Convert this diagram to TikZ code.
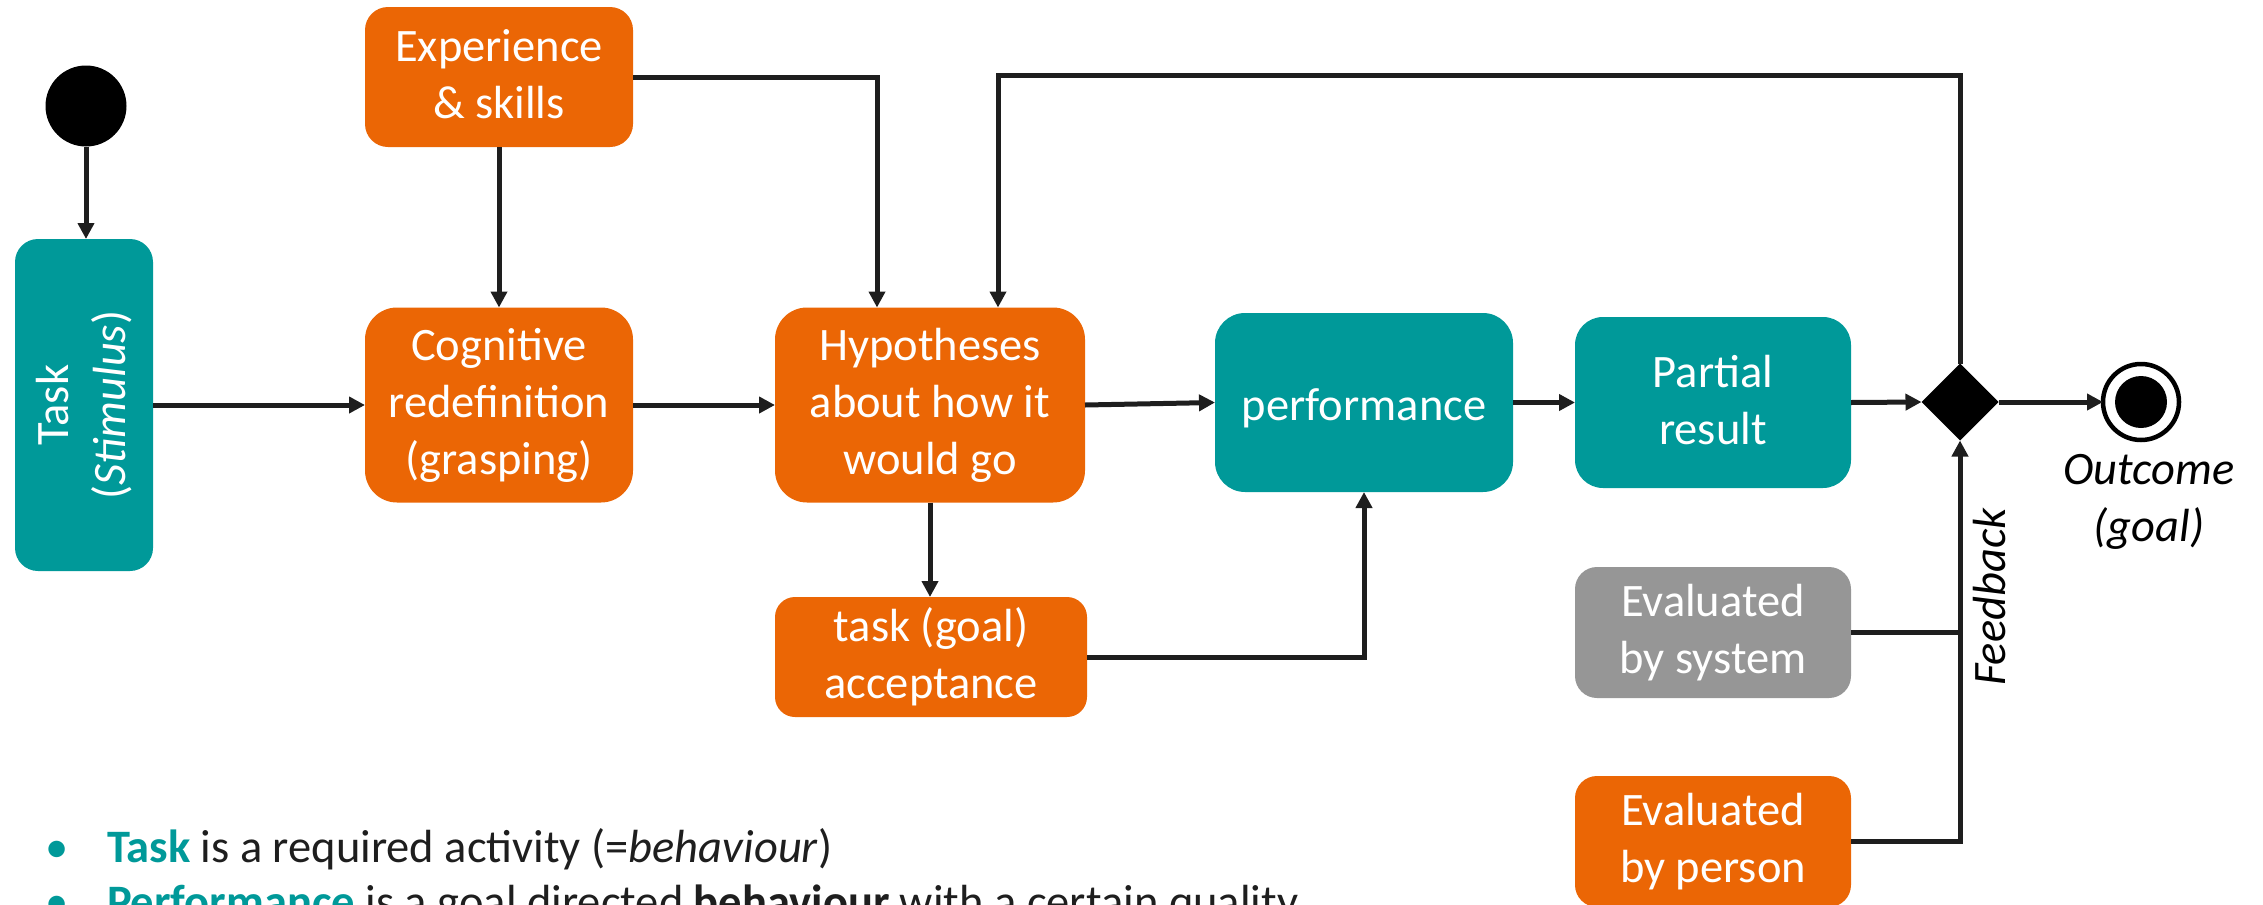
\documentclass[tikz,border=0pt]{standalone}
\usepackage{fontspec}
\setmainfont{Carlito}
\usetikzlibrary{arrows.meta,shapes.geometric,calc}

\definecolor{tealc}{RGB}{0,153,153}
\definecolor{orangec}{RGB}{235,102,5}
\definecolor{grayc}{RGB}{150,150,150}
\definecolor{linec}{RGB}{30,30,30}

% strut giving every text line the same ascent/descent
\newcommand{\mystrut}{\rule[-5pt]{0pt}{48pt}}

\begin{document}
\begin{tikzpicture}[x=1pt,y=-1pt,
  every node/.style={inner sep=0pt, outer sep=0pt},
  txt/.style={align=center, font=\fontsize{46.5}{57}\selectfont,
    execute at begin node=\mystrut, execute at end node=\mystrut},
  box/.style={txt, rectangle, rounded corners=#1, text=white},
  conn/.style={draw=linec, line width=5pt},
  arr/.style={conn, -{Triangle[length=16pt,width=16pt]}},
]
\useasboundingbox (0,0) rectangle (2263,905);
\clip (0,0) rectangle (2263,905);

% start node
\node[circle, fill=black, minimum size=81pt] (start) at (86,106) {};

% activity boxes
\node[box=23pt, fill=tealc, minimum width=138pt, minimum height=332pt] (task) at (84,405) {};
\node[txt, text=white, rotate=90] (tasklbl) at (task.center) {Task\\(\textit{Stimulus})};

\node[box=23pt, fill=orangec, minimum width=268pt, minimum height=140pt] (exp) at (499,77) {Experience\\\& skills};
\node[box=32pt, fill=orangec, minimum width=268pt, minimum height=195pt] (cog) at (499,405) {Cognitive\\redefinition\\(grasping)};
\node[box=32pt, fill=orangec, minimum width=310pt, minimum height=195pt] (hyp) at (930,405) {Hypotheses\\about how it\\would go};
\node[box=20pt, fill=orangec, minimum width=312pt, minimum height=120pt] (acc) at (931,657) {task (goal)\\acceptance};
\node[box=30pt, fill=tealc, minimum width=298pt, minimum height=179pt] (perf) at (1364,402.5) {performance};
\node[box=28pt, fill=tealc, minimum width=276pt, minimum height=171pt] (part) at (1713,402.5) {Partial\\result};
\node[box=22pt, fill=grayc, minimum width=276pt, minimum height=131pt] (evsys) at (1713,632.5) {Evaluated\\by system};
\node[box=22pt, fill=orangec, minimum width=276pt, minimum height=131pt] (evper) at (1713,841.5) {Evaluated\\by person};

% decision and final nodes
\node[diamond, fill=black, minimum size=77pt] (dia) at (1960,402) {};
\node[circle, draw=black, line width=4.5pt, fill=white, minimum size=76pt] (end) at (2141,402) {};
\node[circle, fill=black, minimum size=52pt] (endin) at (end.center) {};
\node[txt, font=\fontsize{46.5}{57}\selectfont\itshape] (outlbl) at (2149,502) {Outcome\\(goal)};
\node[txt, font=\fontsize{46.5}{57}\selectfont\itshape, rotate=90] (fblbl) at (1986,597) {Feedback};

% entry points on top of the hypotheses box
\coordinate (hin1) at ($(hyp.north)+(-53,0)$);
\coordinate (hin2) at ($(hyp.north)+(68,0)$);

% connectors
\draw[arr] (start.south) -- (start.south |- task.north);
\draw[arr] (task.east) -- (cog.west);
\draw[arr] (exp.south) -- (cog.north);
\draw[arr] (exp.east) -| (hin1);
\draw[arr] (cog.east) -- (hyp.west);
\draw[arr] (hyp.east) -- (perf.west);
\draw[arr] (hyp.south) -- (hyp.south |- acc.north);
\draw[arr] (acc.east) -| (perf.south);
\draw[arr] (perf.east) -- (part.west);
\draw[arr] (part.east) -- (dia.west);
\draw[arr] (dia.east) -- (end.west);
\draw[arr] (dia.north) |- (hin2 |- 0,75) -- (hin2);
\draw[conn] (evsys.east) -- (evsys.east -| dia.south);
\draw[arr] (evper.east) -| (dia.south);

% definitions below the diagram
\node[anchor=base, text=tealc, font=\fontsize{46.5}{57}\selectfont] (b1) at (57,862) {•};
\node[anchor=base west, text=linec, font=\fontsize{46.5}{57}\selectfont] (t1) at (107,862)
  {\textcolor{tealc}{\textbf{Task}} is a required activity (=\textit{behaviour})};
\node[anchor=base, text=tealc, font=\fontsize{46.5}{57}\selectfont] (b2) at (57,917) {•};
\node[anchor=base west, text=linec, font=\fontsize{46.5}{57}\selectfont] (t2) at (107,917)
  {\textcolor{tealc}{\textbf{Performance}} is a goal directed \textbf{behaviour} with a certain quality};
\end{tikzpicture}
\end{document}
